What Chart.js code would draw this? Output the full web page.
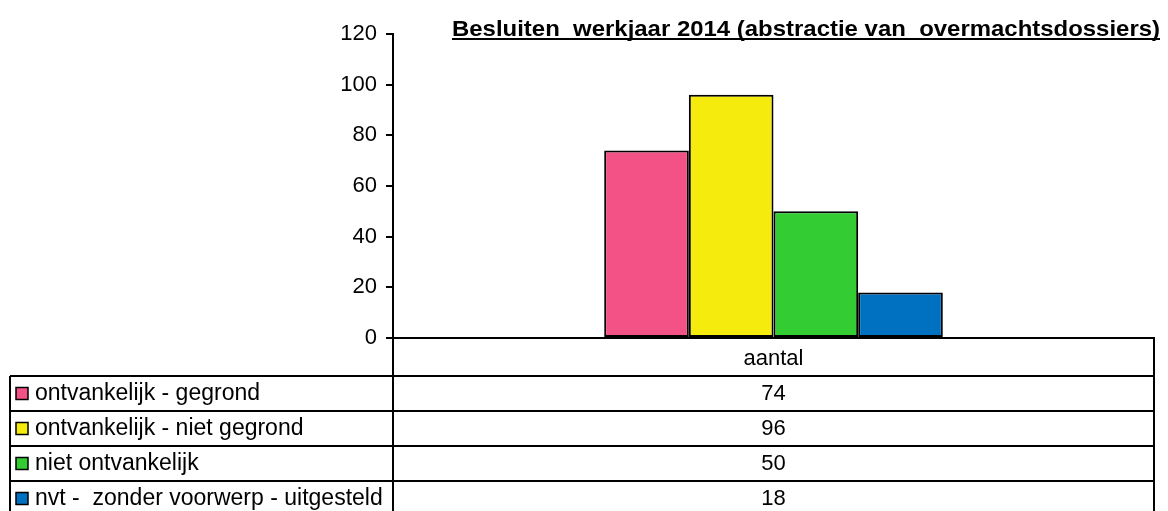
<!DOCTYPE html>
<html>
<head>
<meta charset="utf-8">
<script src="https://cdn.jsdelivr.net/npm/chart.js@4"></script>
<style>
  html, body { margin: 0; padding: 0; background: #fff; }
  #wrap { width: 1168px; height: 511px; }
</style>
</head>
<body>
<div id="wrap"><canvas id="besluitenChart" width="1168" height="511"></canvas></div>
<script>
// gegevens
const titel = 'Besluiten  werkjaar 2014 (abstractie van  overmachtsdossiers)';
const categorieen = ['aantal'];
const reeksNamen = ['ontvankelijk - gegrond', 'ontvankelijk - niet gegrond', 'niet ontvankelijk', 'nvt -  zonder voorwerp - uitgesteld'];
const reeksWaarden = [74, 96, 50, 18];
const yTicks = [0, 20, 40, 60, 80, 100, 120];
const kleuren = ['#F25285', '#F5EB0C', '#33CC33', '#0070C0'];

const FONT = '"Liberation Sans", Arial, sans-serif';

// titel + tabel onder de grafiek
const tabelPlugin = {
    id: 'tabel',
    afterDraw(chart) {
        const ctx = chart.ctx;
        const area = chart.chartArea;
        const xScale = chart.scales.x;
        const kopHoogte = 38;
        const rijHoogte = 35;
        const links = 10;
        const rijTop = area.bottom + kopHoogte;
        const onder = rijTop + rijHoogte * reeksNamen.length;

        ctx.save();
        ctx.strokeStyle = '#000';
        ctx.lineWidth = 2;

        // horizontale lijnen
        for (let i = 0; i <= reeksNamen.length; i++) {
            const y = rijTop + i * rijHoogte;
            ctx.beginPath();
            ctx.moveTo(links, y);
            ctx.lineTo(area.right, y);
            ctx.stroke();
        }
        // verticale lijnen
        ctx.beginPath();
        ctx.moveTo(links, rijTop); ctx.lineTo(links, onder);
        ctx.moveTo(area.left, area.bottom); ctx.lineTo(area.left, onder);
        ctx.moveTo(area.right, area.bottom); ctx.lineTo(area.right, onder);
        ctx.stroke();

        ctx.fillStyle = '#000';
        ctx.textBaseline = 'middle';
        chart.data.datasets.forEach((ds, i) => {
            const yMid = rijTop + i * rijHoogte + rijHoogte / 2;
            // legendesleutel
            ctx.fillStyle = ds.backgroundColor;
            ctx.fillRect(16, yMid - 6, 12, 12);
            ctx.lineWidth = 1.5;
            ctx.strokeRect(16, yMid - 6, 12, 12);
            ctx.fillStyle = '#000';
            ctx.textAlign = 'left';
            ctx.font = '23px ' + FONT;
            ctx.fillText(ds.label, 35, yMid);
            ctx.textAlign = 'center';
            ctx.font = '22px ' + FONT;
            ctx.fillText(String(ds.data[0]), xScale.getPixelForValue(0), yMid);
        });

        // titel
        ctx.font = 'bold 22px ' + FONT;
        ctx.textAlign = 'left';
        ctx.textBaseline = 'alphabetic';
        const tx = 452, tBreedte = 708, ty = 36;
        const w = ctx.measureText(titel).width;
        ctx.save();
        ctx.translate(tx, ty);
        ctx.scale(tBreedte / w, 1);
        ctx.fillText(titel, 0, 0);
        ctx.restore();
        ctx.lineWidth = 2;
        ctx.beginPath();
        ctx.moveTo(tx, ty + 3);
        ctx.lineTo(tx + tBreedte, ty + 3);
        ctx.stroke();
        ctx.restore();
    }
};

const ctx = document.getElementById('besluitenChart').getContext('2d');
const besluitenChart = new Chart(ctx, {
    type: 'bar',
    data: {
        labels: categorieen,
        datasets: reeksNamen.map((naam, i) => ({
            label: naam,
            data: [reeksWaarden[i]],
            backgroundColor: kleuren[i],
            borderColor: '#000',
            borderWidth: 2,
            borderSkipped: false,
            categoryPercentage: 0.445,
            barPercentage: 1
        }))
    },
    options: {
        responsive: false,
        animation: false,
        layout: { padding: { top: 34, right: 14, bottom: 0, left: 0 } },
        plugins: {
            legend: { display: false },
            title: { display: false },
            tooltip: { enabled: false }
        },
        scales: {
            x: {
                grid: { display: false, drawTicks: false },
                border: { display: true, color: '#000', width: 2 },
                ticks: { color: '#000', font: { family: FONT, size: 22 }, padding: 8 },
                afterFit(scale) { scale.height = 173; }
            },
            y: {
                min: 0,
                max: 120,
                afterBuildTicks(scale) { scale.ticks = yTicks.map(v => ({ value: v })); },
                grid: { drawOnChartArea: false, drawTicks: true, tickLength: 7, color: '#000', lineWidth: 2 },
                border: { display: true, color: '#000', width: 2 },
                ticks: { color: '#000', font: { family: FONT, size: 22 }, padding: 9 },
                afterFit(scale) { scale.width = 393; }
            }
        }
    },
    plugins: [tabelPlugin]
});
</script>
</body>
</html>
